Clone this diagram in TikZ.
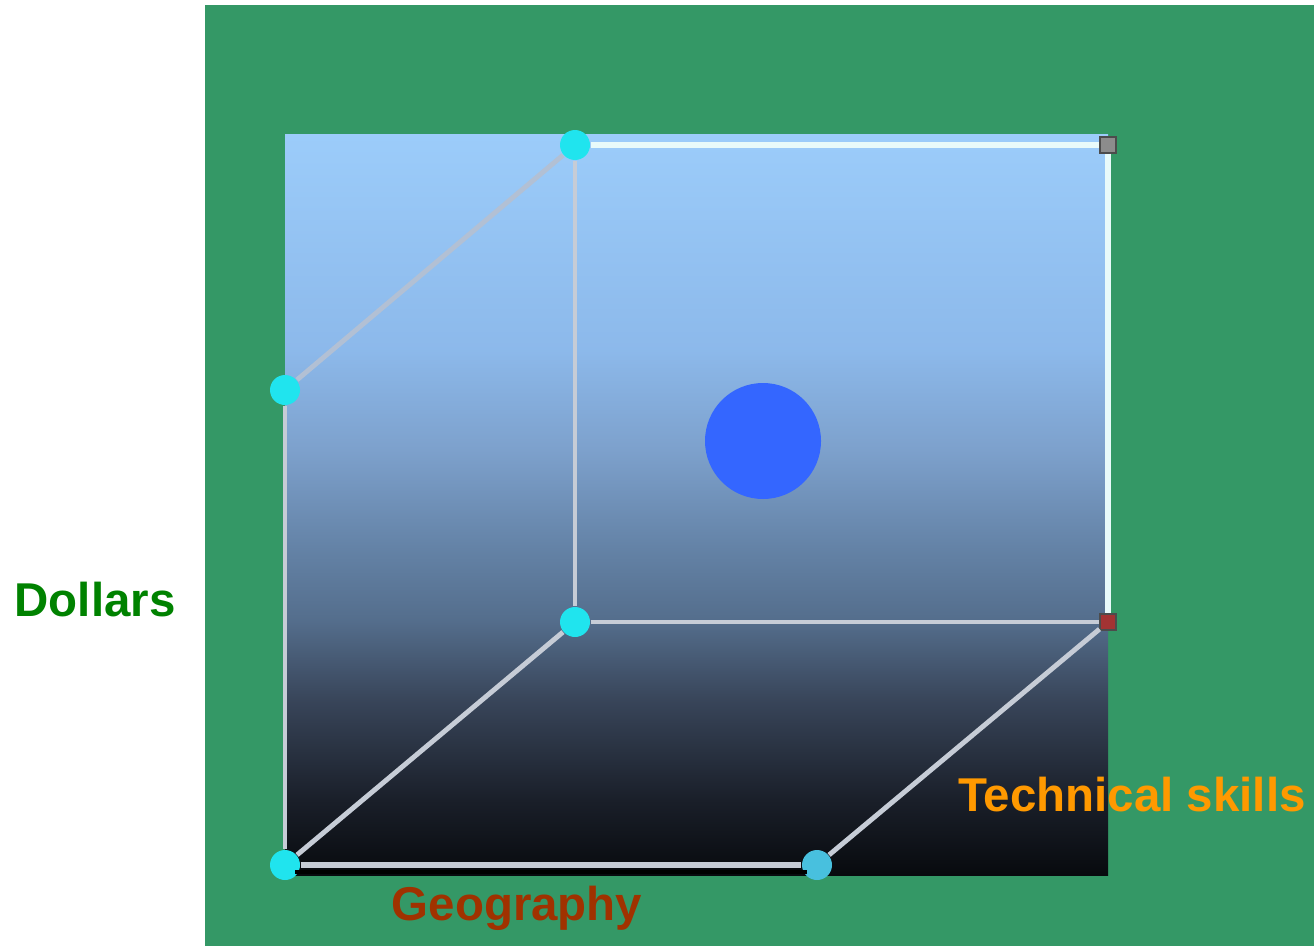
\documentclass[tikz,border=0pt]{standalone}
\usepackage{fontspec}
\setmainfont{Liberation Sans}
\usetikzlibrary{calc}
\definecolor{bgG}{RGB}{52,152,102}
\definecolor{edgeL}{RGB}{198,204,214}
\definecolor{edgeF}{RGB}{178,192,212}
\definecolor{edgeW}{RGB}{232,250,250}
\definecolor{dotC}{RGB}{32,228,238}
\definecolor{dotB}{RGB}{72,192,222}
\definecolor{ballB}{RGB}{52,102,255}
\definecolor{txtG}{RGB}{0,130,0}
\definecolor{txtO}{RGB}{255,153,0}
\definecolor{txtR}{RGB}{160,50,0}
\pgfdeclareverticalshading{cubeface}{100bp}{
  rgb(0bp)=(0.03,0.04,0.055); rgb(25bp)=(0.03,0.04,0.055);
  rgb(30bp)=(0.10,0.12,0.16); rgb(36.8bp)=(0.22,0.27,0.35);
  rgb(42.2bp)=(0.33,0.43,0.55); rgb(47bp)=(0.39,0.51,0.65);
  rgb(53.7bp)=(0.49,0.63,0.80); rgb(60.5bp)=(0.55,0.725,0.92);
  rgb(75bp)=(0.61,0.80,0.98); rgb(100bp)=(0.61,0.80,0.98)}
\tikzset{
  vdot/.style={circle, fill=dotC, inner sep=0pt, minimum size=3mm},
  cnr/.style={rectangle, fill=#1, draw=black!70, line width=0.3pt, inner sep=0pt, minimum size=1.6mm},
  edge/.style={edgeL, line width=1.4pt},
  axlab/.style={font=\bfseries\fontsize{13.5}{16}\selectfont}
}

\begin{document}
\begin{tikzpicture}
\useasboundingbox (0,0) rectangle (13.14,9.46);
% background
\fill[white] (0,0) rectangle (13.14,9.46);
\fill[bgG] (2.05,0) rectangle (13.14,9.41);
% gradient face
\shade[shading=cubeface] (2.85,0.71) rectangle (11.08,8.11);
% corners
\node[vdot] (ml) at (2.85,5.56) {};
\node[vdot] (tb) at (5.75,8.01) {};
\node[cnr=black!45] (tr) at (11.08,8.01) {};
\node[vdot] (mb) at (5.75,3.24) {};
\node[cnr=red!55!black!80] (mr) at (11.08,3.24) {};
\node[vdot] (bl) at (2.85,0.81) {};
\node[vdot, fill=dotB] (bm) at (8.17,0.81) {};
% edges
\draw[edge, edgeF] (ml) -- (tb);
\draw[edgeW, line width=1.8pt] (tb) -- (tr);
\draw[edgeW, line width=1.5pt] (tr) -- (mr);
\draw[edge] (tb) -- (mb);
\draw[edge] (mb) -- (mr);
\draw[edge] (ml) -- (bl);
\draw[edge] (bl) -- (mb);
\draw[edge] (bm) -- (mr);
\draw[black, line width=1pt, shorten <=1mm, shorten >=1mm] ([yshift=-0.7mm]bl.center) -- ([yshift=-0.7mm]bm.center);
\draw[edge, line width=1.6pt] (bl) -- (bm);
% ball
\fill[ballB] (7.63,5.05) circle (0.58);
% labels
\node[axlab, txtG] (dol) at (0.95,3.46) {Dollars};
\node[axlab, txtO] (tec) at (11.32,1.51) {Technical skills};
\node[axlab, txtR] (geo) at (5.17,0.38) {Geography};
\end{tikzpicture}
\end{document}
